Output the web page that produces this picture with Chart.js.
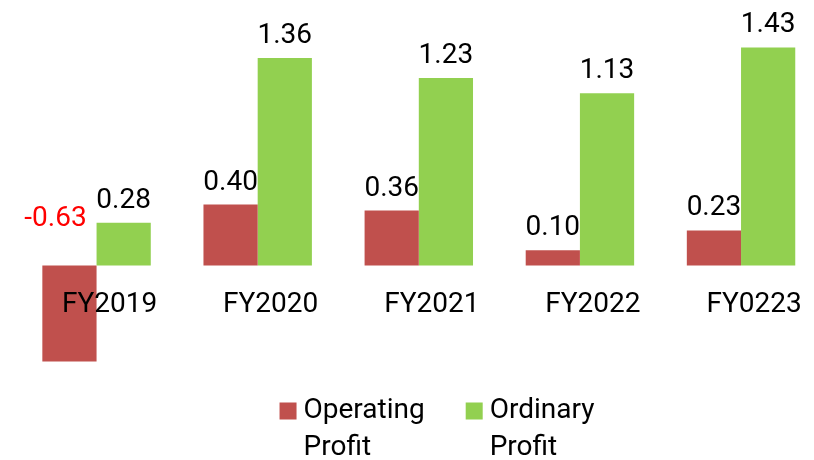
<!DOCTYPE html>
<html><head><meta charset="utf-8">
<script src="https://cdn.jsdelivr.net/npm/chart.js@4/dist/chart.umd.min.js"></script>
<style>html,body{margin:0;padding:0;background:#fff;overflow:hidden}
#wrap{position:relative;width:830px;height:460px}</style>
</head><body><div id="wrap"><canvas id="c" width="830" height="460"></canvas></div>
<script>
const categories = ['FY2019', 'FY2020', 'FY2021', 'FY2022', 'FY0223'];
const operatingProfit = [-0.63, 0.40, 0.36, 0.10, 0.23];
const ordinaryProfit = [0.28, 1.36, 1.23, 1.13, 1.43];
const seriesNames = [['Operating', 'Profit'], ['Ordinary', 'Profit']];
const seriesColors = ['#C0504D', '#92D050'];

const FONT_FAMILY = 'Roboto';
const FONT_SIZE = 28;

const labelPlugin = {
  id: 'labels',
  afterDatasetsDraw(chart) {
    const ctx = chart.ctx;
    const yScale = chart.scales.y;
    const xScale = chart.scales.x;
    const zero = yScale.getPixelForValue(0);
    ctx.save();
    ctx.font = FONT_SIZE + 'px ' + FONT_FAMILY;
    ctx.textBaseline = 'middle';
    ctx.textAlign = 'center';
    // value labels
    chart.data.datasets.forEach((ds, di) => {
      const meta = chart.getDatasetMeta(di);
      meta.data.forEach((bar, i) => {
        const v = ds.data[i];
        const txt = v.toFixed(2);
        if (v >= 0) {
          ctx.fillStyle = '#000000';
          ctx.fillText(txt, bar.x, bar.y - 22);
        } else {
          ctx.fillStyle = '#FF0000';
          ctx.fillText(txt, bar.x - 14, zero - 47);
        }
      });
    });
    // category labels next to the zero line
    ctx.fillStyle = '#000000';
    categories.forEach((c, i) => {
      ctx.fillText(c, xScale.getPixelForValue(i) + 13, zero + 39);
    });
    // legend
    const box = 17, gap = 7, itemGap = 41, lineH = 37;
    const widths = seriesNames.map(n => Math.max(...n.map(t => ctx.measureText(t).width)));
    const total = widths.reduce((a, w) => a + box + gap + w, 0) + itemGap * (widths.length - 1);
    let x = 437 - total / 2;
    const y0 = 411;
    ctx.textAlign = 'left';
    seriesNames.forEach((n, i) => {
      ctx.fillStyle = seriesColors[i];
      ctx.fillRect(x, y0 - box / 2, box, box);
      ctx.fillStyle = '#000000';
      n.forEach((t, li) => ctx.fillText(t, x + box + gap, y0 + li * lineH));
      x += box + gap + widths[i] + itemGap;
    });
    ctx.restore();
  }
};

new Chart(document.getElementById('c'), {
  type: 'bar',
  data: {
    labels: categories,
    datasets: [
      { label: seriesNames[0].join(' '), data: operatingProfit, backgroundColor: seriesColors[0], borderWidth: 0 },
      { label: seriesNames[1].join(' '), data: ordinaryProfit, backgroundColor: seriesColors[1], borderWidth: 0 }
    ]
  },
  options: {
    responsive: false,
    animation: false,
    layout: { padding: { left: 16, right: 8.4, top: 21.5, bottom: 87.75 } },
    datasets: { bar: { categoryPercentage: 0.673, barPercentage: 1.0 } },
    plugins: { legend: { display: false }, tooltip: { enabled: false } },
    scales: {
      x: { display: false, grid: { display: false } },
      y: { display: false, min: -0.7, max: 1.6, grid: { display: false } }
    }
  },
  plugins: [labelPlugin]
});
</script></body></html>
